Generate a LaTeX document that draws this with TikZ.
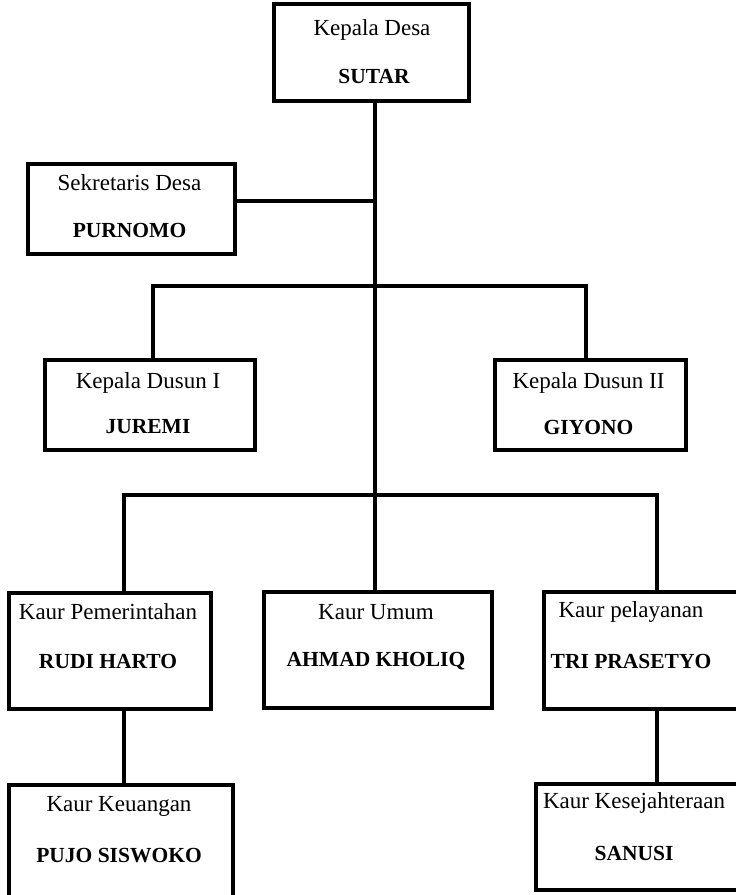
\documentclass[tikz,border=0pt]{standalone}
\usepackage{fontspec}
\setmainfont{Liberation Serif}
\begin{document}
\begin{tikzpicture}[x=1pt,y=-1pt,
  box/.style={draw=black, line width=3.8pt, fill=none, rectangle, inner sep=0pt, anchor=north west},
  role/.style={font=\fontsize{23}{26}\selectfont, inner sep=0pt, anchor=center},
  who/.style={font=\fontsize{21.5}{24}\selectfont\bfseries, inner sep=0pt, anchor=center},
  link/.style={line width=3.8pt, line cap=rect}]
\clip (0,0) rectangle (736,895);
\fill[white] (0,0) rectangle (736,895);
% boxes
\node[box, minimum width=195pt, minimum height=97pt] (kd) at (272,2) {};
\node[box, minimum width=207pt, minimum height=90pt] (sd) at (26,162) {};
\node[box, minimum width=210pt, minimum height=90pt] (kdi) at (43,358) {};
\node[box, minimum width=191pt, minimum height=90pt] (kdii) at (493,358) {};
\node[box, minimum width=202pt, minimum height=116pt] (kp) at (7,591) {};
\node[box, minimum width=228pt, minimum height=116pt] (ku) at (262,590) {};
\node[box, minimum width=210pt, minimum height=117pt] (kpl) at (542,590) {};
\node[box, minimum width=224pt, minimum height=130pt] (kk) at (7,783) {};
\node[box, minimum width=210pt, minimum height=106pt] (ks) at (534,782) {};
% texts
\node[role] (t1) at (372,30) {Kepala Desa};
\node[who]  (n1) at (374,76) {SUTAR};
\node[role] (t2) at (129.5,183) {Sekretaris Desa};
\node[who]  (n2) at (129.5,230) {PURNOMO};
\node[role] (t3) at (148,383) {Kepala Dusun I};
\node[who]  (n3) at (148,427) {JUREMI};
\node[role] (t4) at (588.5,383) {Kepala Dusun II};
\node[who]  (n4) at (588.5,427) {GIYONO};
\node[role] (t5) at (108,612) {Kaur Pemerintahan};
\node[who]  (n5) at (108,661) {RUDI HARTO};
\node[role] (t6) at (376,612) {Kaur Umum};
\node[who]  (n6) at (376,661) {AHMAD KHOLIQ};
\node[role] (t7) at (631,612) {Kaur pelayanan};
\node[who]  (n7) at (631,661) {TRI PRASETYO};
\node[role] (t8) at (119,806) {Kaur Keuangan};
\node[who]  (n8) at (119,856) {PUJO SISWOKO};
\node[role] (t9) at (634,803) {Kaur Kesejahteraan};
\node[who]  (n9) at (634,853) {SANUSI};
% junctions
\coordinate (j1) at (375,201);
\coordinate (j2) at (375,286);
\coordinate (j2l) at (153,286);
\coordinate (j2r) at (586,286);
\coordinate (j3) at (375,495);
\coordinate (j3l) at (124,495);
\coordinate (j3r) at (657,495);
% connectors
\draw[link] (kd.south -| j1) -- (ku.north -| j1);
\draw[link] (sd.east |- j1) -- (j1);
\draw[link] (kdi.north -| j2l) -- (j2l) -- (j2r) -- (kdii.north -| j2r);
\draw[link] (kp.north -| j3l) -- (j3l) -- (j3r) -- (kpl.north -| j3r);
\draw[link] (kp.south -| j3l) -- (kk.north -| j3l);
\draw[link] (kpl.south -| j3r) -- (ks.north -| j3r);
\end{tikzpicture}
\end{document}
